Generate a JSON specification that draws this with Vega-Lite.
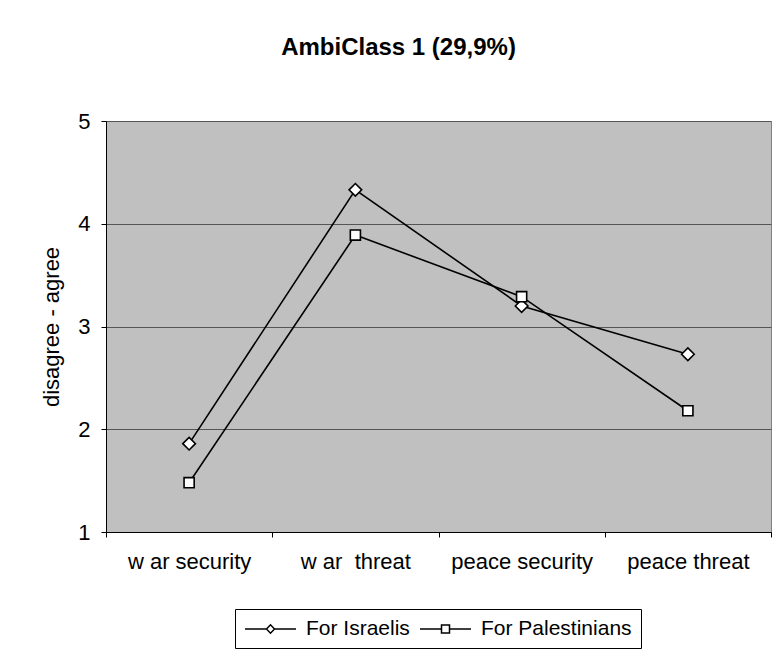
{
  "$schema": "https://vega.github.io/schema/vega-lite/v6.json",
  "width": 665,
  "height": 411,
  "autosize": {"type": "none"},
  "padding": {"left": 106, "top": 121, "right": 5, "bottom": 118},
  "background": "white",
  "title": {
    "text": "AmbiClass 1 (29,9%)",
    "font": "Liberation Sans",
    "fontSize": 24,
    "fontWeight": "bold",
    "color": "black",
    "anchor": "middle",
    "frame": "group",
    "dx": -40,
    "offset": 50
  },
  "data": {
    "values": [
      {"category": "w ar security", "series": "For Israelis", "value": 1.86},
      {"category": "w ar  threat", "series": "For Israelis", "value": 4.33},
      {"category": "peace security", "series": "For Israelis", "value": 3.2},
      {"category": "peace threat", "series": "For Israelis", "value": 2.73},
      {"category": "w ar security", "series": "For Palestinians", "value": 1.48},
      {"category": "w ar  threat", "series": "For Palestinians", "value": 3.89},
      {"category": "peace security", "series": "For Palestinians", "value": 3.29},
      {"category": "peace threat", "series": "For Palestinians", "value": 2.18}
    ]
  },
  "encoding": {
    "x": {
      "field": "category",
      "type": "nominal",
      "sort": ["w ar security", "w ar  threat", "peace security", "peace threat"],
      "scale": {"type": "band", "paddingInner": 0, "paddingOuter": 0},
      "axis": {
        "title": null,
        "labelAngle": 0,
        "tickBand": "extent",
        "labelFontSize": 22,
        "labelFont": "Liberation Sans",
        "labelColor": "black",
        "labelPadding": 14,
        "labelExpr": "replace(datum.label, '  ', ' \u00a0')",
        "tickSize": 5,
        "tickColor": "black",
        "domainColor": "black",
        "grid": false
      }
    },
    "y": {
      "field": "value",
      "type": "quantitative",
      "scale": {"domain": [1, 5], "nice": false, "zero": false},
      "axis": {
        "values": [1, 2, 3, 4, 5],
        "format": "d",
        "title": "disagree - agree",
        "titleFont": "Liberation Sans",
        "titleFontSize": 22,
        "titleFontWeight": "normal",
        "titleColor": "black",
        "titlePadding": 14,
        "labelFontSize": 22,
        "labelFont": "Liberation Sans",
        "labelColor": "black",
        "labelPadding": 11,
        "tickSize": 5,
        "tickColor": "black",
        "domainColor": "black",
        "grid": true,
        "gridColor": "#555555",
        "gridWidth": 1
      }
    }
  },
  "layer": [
    {
      "transform": [{"filter": "datum.value > 10"}],
      "mark": {"type": "point", "filled": false, "color": "black", "strokeWidth": 1.5, "opacity": 1},
      "encoding": {
        "shape": {
          "field": "series",
          "type": "nominal",
          "scale": {
            "domain": ["For Israelis", "For Palestinians"],
            "range": [
              "M-1,0H1.15M1.15,0L1.55,-0.42L1.95,0L1.55,0.42ZM1.95,0H4.1",
              "M-1,0H1.15M1.15,-0.4H1.95V0.4H1.15ZM1.95,0H4.1"
            ]
          },
          "legend": {
            "orient": "none",
            "legendX": 129,
            "legendY": 488,
            "direction": "horizontal",
            "title": null,
            "strokeColor": "black",
            "fillColor": "white",
            "padding": 9,
            "symbolSize": 400,
            "symbolStrokeWidth": 1.5,
            "symbolStrokeColor": "black",
            "symbolOpacity": 1,
            "labelFont": "Liberation Sans",
            "labelFontSize": 21,
            "labelColor": "black",
            "labelOffset": 40,
            "columnPadding": 7
          }
        }
      }
    },
    {
      "mark": {"type": "line", "color": "black", "strokeWidth": 1.6},
      "encoding": {"detail": {"field": "series", "type": "nominal"}}
    },
    {
      "mark": {"type": "point", "filled": true, "fill": "white", "stroke": "black", "strokeWidth": 1.6, "size": 160, "opacity": 1},
      "encoding": {
        "shape": {
          "field": "series",
          "type": "nominal",
          "scale": {
            "domain": ["For Israelis", "For Palestinians"],
            "range": ["M-1,0L0,-1L1,0L0,1Z", "M-0.8,-0.8H0.8V0.8H-0.8Z"]
          },
          "legend": null
        }
      }
    }
  ],
  "resolve": {"scale": {"shape": "independent"}},
  "config": {
    "view": {"fill": "#c0c0c0", "stroke": "#808080"},
    "font": "Liberation Sans"
  }
}
